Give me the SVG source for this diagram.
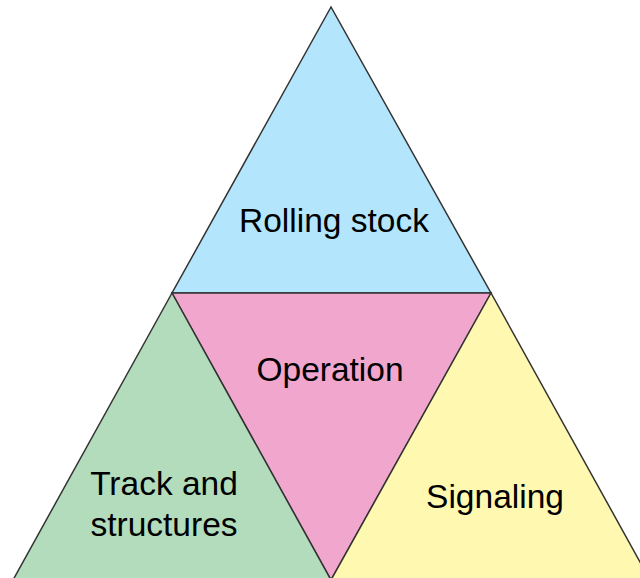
<svg xmlns="http://www.w3.org/2000/svg" width="640" height="578" viewBox="0 0 640 578">
<style>
.tri{stroke:#333;stroke-width:1.5;stroke-linejoin:miter}
.lbl{font-family:"Liberation Sans",Arial,sans-serif;font-size:33.5px;fill:#000;text-anchor:middle}
</style>
<rect width="640" height="578" fill="#fff"/>
<g id="rolling-stock">
<polygon class="tri" points="331,7 172,293 491,293" fill="#b3e5fc"/>
<text class="lbl" x="334" y="232">Rolling stock</text>
</g>
<g id="operation">
<polygon class="tri" points="172,293 491,293 331,580" fill="#f0a6cd"/>
<text class="lbl" x="330" y="381">Operation</text>
</g>
<g id="track">
<polygon class="tri" points="172,293 13,580 331,580" fill="#b2dcbc"/>
<text class="lbl" x="164" y="495">Track and</text>
<text class="lbl" x="164" y="536">structures</text>
</g>
<g id="signaling">
<polygon class="tri" points="491,293 331,580 650,580" fill="#fff8b0"/>
<text class="lbl" x="495" y="508">Signaling</text>
</g>
<g id="connectors"></g>
</svg>
